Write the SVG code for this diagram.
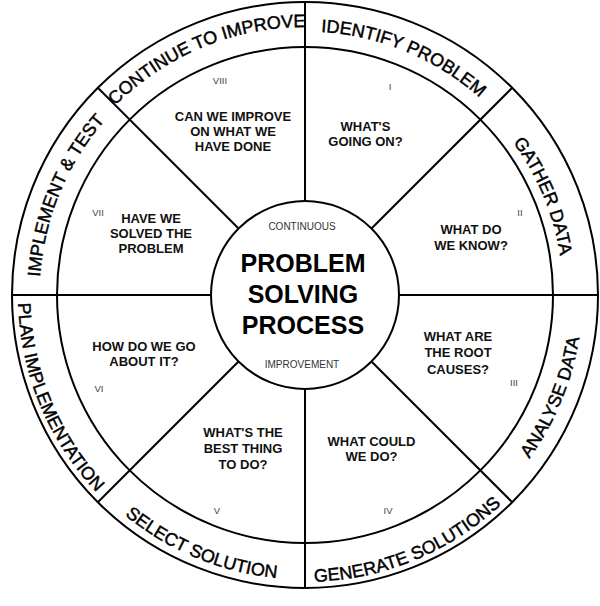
<svg xmlns="http://www.w3.org/2000/svg" width="600" height="606" viewBox="0 0 600 606">
<style>
.ln{stroke:#000;stroke-width:2;fill:none}
.ring{font-family:"Liberation Sans",Arial,sans-serif;font-size:18px;fill:#000;stroke:#000;stroke-width:0.45}
.seg{font-family:"Liberation Sans",Arial,sans-serif;font-size:13px;font-weight:bold;fill:#111;text-anchor:middle}
.num{font-family:"Liberation Sans",Arial,sans-serif;font-size:9.5px;fill:#444;text-anchor:middle}
.big{font-family:"Liberation Sans",Arial,sans-serif;font-size:25px;font-weight:bold;fill:#000;text-anchor:middle}
.sm{font-family:"Liberation Sans",Arial,sans-serif;font-size:10px;fill:#333;text-anchor:middle}
</style>
<defs>
<path id="p1" d="M43.53,341.10 A265.5,265.5 0 0 1 152.72,77.52"/>
<path id="p2" d="M85.47,141.28 A268,268 0 0 1 351.54,31.07"/>
<path id="p3" d="M259.24,35.50 A263.5,263.5 0 0 1 520.85,143.86"/>
<path id="p4" d="M452.98,83.66 A258,258 0 0 1 559.08,339.80"/>
<path id="p5" d="M464.17,522.31 A277.5,277.5 0 0 0 578.28,246.81"/>
<path id="p6" d="M255.16,577.64 A287,287 0 0 0 540.10,459.62"/>
<path id="p7" d="M71.95,458.18 A284.5,284.5 0 0 0 354.40,575.18"/>
<path id="p8" d="M22.36,245.16 A287,287 0 0 0 140.38,530.10"/>
</defs>
<rect width="600" height="606" fill="#fff"/>
<g id="wheel">
<circle class="ln" cx="305" cy="295" r="293"/>
<circle class="ln" cx="305" cy="295" r="248"/>
</g>
<g id="connectors">
<line class="ln" x1="399" y1="295" x2="598" y2="295"/>
<line class="ln" x1="371.47" y1="361.47" x2="512.18" y2="502.18"/>
<line class="ln" x1="305" y1="389" x2="305" y2="588"/>
<line class="ln" x1="238.53" y1="361.47" x2="97.82" y2="502.18"/>
<line class="ln" x1="211" y1="295" x2="12" y2="295"/>
<line class="ln" x1="238.53" y1="228.53" x2="97.82" y2="87.82"/>
<line class="ln" x1="305" y1="201" x2="305" y2="2"/>
<line class="ln" x1="371.47" y1="228.53" x2="512.18" y2="87.82"/>
</g>
<g id="ring-labels">
<text class="ring"><textPath href="#p1" startOffset="50%" text-anchor="middle">IMPLEMENT &amp; TEST</textPath></text>
<text class="ring"><textPath href="#p2" startOffset="50%" text-anchor="middle">CONTINUE TO IMPROVE</textPath></text>
<text class="ring"><textPath href="#p3" startOffset="50%" text-anchor="middle">IDENTIFY PROBLEM</textPath></text>
<text class="ring"><textPath href="#p4" startOffset="50%" text-anchor="middle">GATHER DATA</textPath></text>
<text class="ring"><textPath href="#p5" startOffset="50%" text-anchor="middle">ANALYSE DATA</textPath></text>
<text class="ring"><textPath href="#p6" startOffset="50%" text-anchor="middle">GENERATE SOLUTIONS</textPath></text>
<text class="ring"><textPath href="#p7" startOffset="50%" text-anchor="middle">SELECT SOLUTION</textPath></text>
<text class="ring"><textPath href="#p8" startOffset="50%" text-anchor="middle">PLAN IMPLEMENTATION</textPath></text>
</g>
<g id="seg-1">
<text class="num" x="390" y="90">I</text>
<text class="seg" x="365.5" y="130.7">WHAT'S</text>
<text class="seg" x="365.5" y="145.7">GOING ON?</text>
</g>
<g id="seg-2">
<text class="num" x="520" y="216">II</text>
<text class="seg" x="471" y="234">WHAT DO</text>
<text class="seg" x="471" y="249.6">WE KNOW?</text>
</g>
<g id="seg-3">
<text class="num" x="514" y="386">III</text>
<text class="seg" x="458" y="341.4">WHAT ARE</text>
<text class="seg" x="458" y="357.4">THE ROOT</text>
<text class="seg" x="458" y="373.7">CAUSES?</text>
</g>
<g id="seg-4">
<text class="num" x="388" y="514">IV</text>
<text class="seg" x="371.5" y="446.4">WHAT COULD</text>
<text class="seg" x="371.5" y="461.4">WE DO?</text>
</g>
<g id="seg-5">
<text class="num" x="217" y="514">V</text>
<text class="seg" x="243" y="437.4">WHAT'S THE</text>
<text class="seg" x="243" y="453">BEST THING</text>
<text class="seg" x="243" y="468.7">TO DO?</text>
</g>
<g id="seg-6">
<text class="num" x="99" y="391.5">VI</text>
<text class="seg" x="144" y="350.7">HOW DO WE GO</text>
<text class="seg" x="144" y="366.4">ABOUT IT?</text>
</g>
<g id="seg-7">
<text class="num" x="98" y="216">VII</text>
<text class="seg" x="151" y="223">HAVE WE</text>
<text class="seg" x="151" y="238">SOLVED THE</text>
<text class="seg" x="151" y="253">PROBLEM</text>
</g>
<g id="seg-8">
<text class="num" x="220" y="84">VIII</text>
<text class="seg" x="233" y="121.4">CAN WE IMPROVE</text>
<text class="seg" x="233" y="136.4">ON WHAT WE</text>
<text class="seg" x="233" y="151.4">HAVE DONE</text>
</g>
<g id="center">
<circle class="ln" cx="305" cy="295" r="94"/>
<text class="sm" x="302" y="229.5">CONTINUOUS</text>
<text class="big" x="303" y="272.4">PROBLEM</text>
<text class="big" x="303" y="303">SOLVING</text>
<text class="big" x="303" y="333.7">PROCESS</text>
<text class="sm" x="302" y="367.5">IMPROVEMENT</text>
</g>
</svg>
